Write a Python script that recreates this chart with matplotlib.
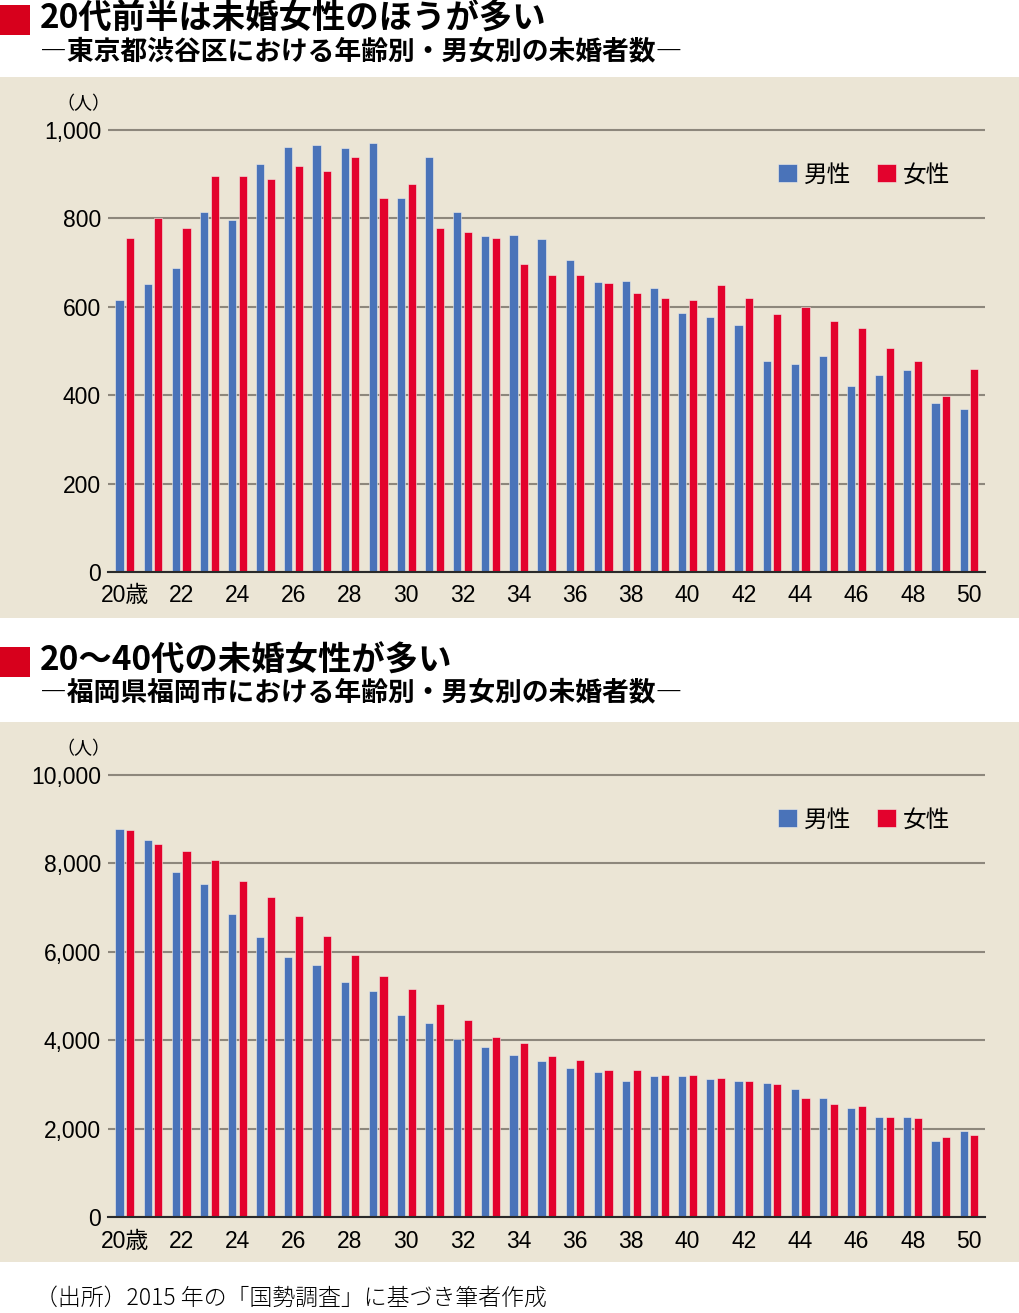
import matplotlib
matplotlib.use("Agg")
import matplotlib.pyplot as plt
from matplotlib.patches import Rectangle
from matplotlib.ticker import FuncFormatter

# data
ages = list(range(20, 51))

shibuya_male = [615, 651, 688, 814, 796, 923, 961, 966, 959, 971,
                846, 939, 814, 760, 762, 753, 706, 656, 658, 643,
                586, 576, 559, 478, 470, 488, 421, 446, 458, 382, 369]
shibuya_female = [755, 801, 778, 896, 896, 889, 918, 907, 939, 846,
                  878, 779, 769, 756, 696, 672, 671, 654, 631, 620,
                  615, 649, 619, 584, 600, 567, 552, 507, 477, 398, 459]

fukuoka_male = [8771, 8522, 7813, 7527, 6848, 6328, 5890, 5701, 5317, 5106,
                4560, 4382, 4020, 3846, 3672, 3536, 3364, 3288, 3070, 3183,
                3183, 3115, 3085, 3024, 2902, 2692, 2473, 2258, 2270, 1712, 1953]
fukuoka_female = [8748, 8439, 8281, 8084, 7594, 7240, 6802, 6357, 5920, 5460,
                  5151, 4827, 4450, 4080, 3929, 3635, 3556, 3333, 3318, 3205,
                  3205, 3145, 3074, 2998, 2688, 2553, 2508, 2258, 2232, 1803, 1862]

tick_ages = list(range(20, 51, 2))
tick_labels = ["20歳"] + [str(a) for a in tick_ages[1:]]

titles = ["20代前半は未婚女性のほうが多い", "20～40代の未婚女性が多い"]
subtitles = ["―東京都渋谷区における年齢別・男女別の未婚者数―",
             "―福岡県福岡市における年齢別・男女別の未婚者数―"]
source = "（出所）2015 年の「国勢調査」に基づき筆者作成"

BLUE = "#4a73b9"
RED = "#e3022d"
BEIGE = "#ebe5d5"
GRID = "#8d877c"
JP = ["Noto Sans CJK JP", "DejaVu Sans"]
NUM = ["Liberation Sans", "Noto Sans CJK JP"]

W, H = 1020, 1313
fig = plt.figure(figsize=(W / 100, H / 100), dpi=100)
fig.patch.set_facecolor("white")


def fx(px):
    return px / W


def fy(py):
    return 1 - py / H


def panel(top_px, male, female, ymax, step, title, subtitle, bg_top, bg_bot):
    # header
    fig.add_artist(Rectangle((0, fy(top_px + 33)), fx(30), 30 / H,
                             transform=fig.transFigure, color="#d7001c", lw=0))
    fig.text(fx(40), fy(top_px + 17), title, family=JP, fontsize=24,
             fontweight="bold", va="center", ha="left")
    fig.text(fx(40), fy(top_px + 49), subtitle, family=JP, fontsize=19.3,
             fontweight="bold", va="center", ha="left")
    # beige background
    fig.add_artist(Rectangle((0, fy(bg_bot)), 1, (bg_bot - bg_top) / H,
                             transform=fig.transFigure, color=BEIGE, lw=0,
                             zorder=-5))

    y0 = bg_top + 495  # pixel of zero line
    scale = 442 / ymax
    top = ymax * 1.05
    ax = fig.add_axes([fx(108), fy(y0), fx(985) - fx(108), top * scale / H])
    ax.set_facecolor("none")
    xm = [a - 0.19 for a in ages]
    xf = [a + 0.19 for a in ages]
    ax.bar(xm, male, width=0.29, color=BLUE, label="男性", zorder=3,
           edgecolor="#f3f0ea", linewidth=0.4)
    ax.bar(xf, female, width=0.29, color=RED, label="女性", zorder=3,
           edgecolor="#f3f0ea", linewidth=0.4)
    ax.set_xlim(19.4, 50.57)
    ax.set_ylim(0, top)
    ax.set_yticks(list(range(0, ymax + 1, step)))
    ax.yaxis.set_major_formatter(FuncFormatter(lambda v, p: f"{int(v):,}"))
    ax.set_xticks(tick_ages)
    ax.set_xticklabels(tick_labels)
    ax.grid(axis="y", color=GRID, linewidth=1.5, zorder=0)
    for s in ["top", "right", "left"]:
        ax.spines[s].set_visible(False)
    ax.spines["bottom"].set_color("#2a2a2a")
    ax.spines["bottom"].set_linewidth(1.5)
    ax.spines["bottom"].set_zorder(4)
    ax.tick_params(axis="both", length=0, labelsize=16.5)
    ax.tick_params(axis="y", pad=5)
    ax.tick_params(axis="x", pad=9)
    for t in ax.get_xticklabels() + ax.get_yticklabels():
        t.set_family(NUM)
    fig.text(fx(83), fy(y0 - 468), "（人）", family=JP, fontsize=13,
             ha="center", va="center")
    ax.legend(loc="center left", bbox_to_anchor=(fx(778), fy(y0 - 397)),
              bbox_transform=fig.transFigure, ncol=2, frameon=False,
              handlelength=0.8, handleheight=0.8, handletextpad=0.3,
              columnspacing=1.1, borderaxespad=0, borderpad=0,
              prop={"family": JP, "size": 17})
    return ax


panel(2, shibuya_male, shibuya_female, 1000, 200, titles[0], subtitles[0], 77, 618)
panel(644, fukuoka_male, fukuoka_female, 10000, 2000, titles[1], subtitles[1], 722, 1262)

fig.text(fx(35), fy(1298), source, family=JP, fontsize=16.5, ha="left",
         va="center", fontweight="light")

plt.savefig("out.png", dpi=100, facecolor="white")
